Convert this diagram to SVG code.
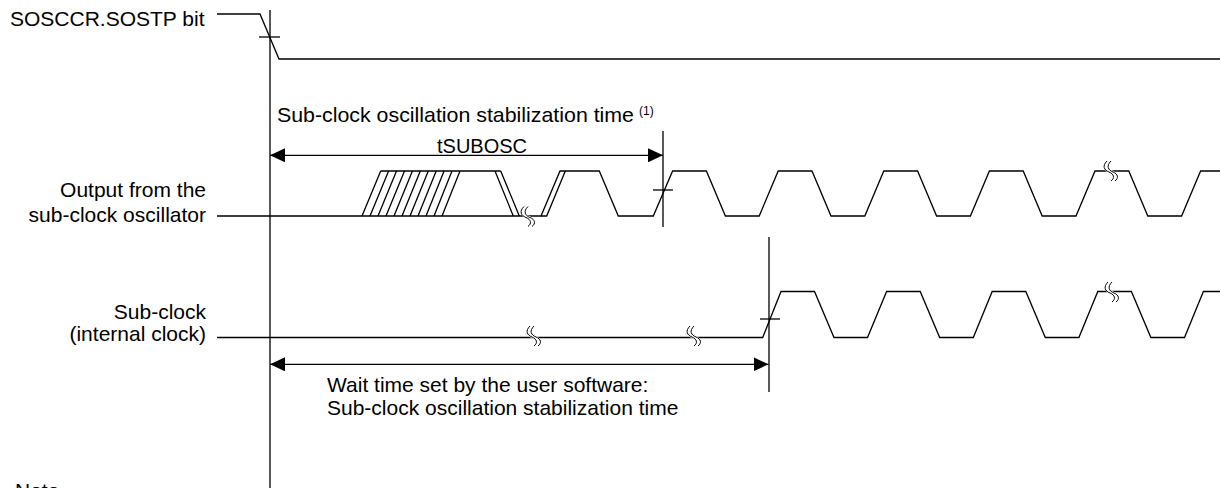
<svg xmlns="http://www.w3.org/2000/svg" width="1220" height="488" viewBox="0 0 1220 488">
<style>
.ln{fill:none;stroke:#000;stroke-width:1.3;stroke-linejoin:miter}
.t{font-family:"Liberation Sans",Arial,sans-serif;font-size:21px;fill:#000}
.e{text-anchor:end}
.bw{fill:none;stroke:#fff;stroke-width:4}
.bk{fill:none;stroke:#000;stroke-width:1}
</style>
<defs>
<marker id="ah" markerUnits="userSpaceOnUse" markerWidth="16" markerHeight="14" refX="15" refY="7" orient="auto-start-reverse">
<path d="M0,0 L15,7 L0,14 Z" fill="#000"/>
</marker>
<g id="brk">
<path class="bw" d="M-1,-10 C-6,-5 -4,-1 1,1 C6,3 7,7 3,10"/>
<path class="bk" d="M-3,-10 C-8,-5 -6,-1 -1,1 C4,3 5,7 1,10"/>
<path class="bk" d="M1,-10 C-4,-5 -2,-1 3,1 C8,3 9,7 5,10"/>
</g>
</defs>
<rect width="1220" height="488" fill="#fff"/>

<g id="sostp">
<text class="t" x="10" y="26">SOSCCR.SOSTP bit</text>
<path class="ln" d="M217,14 H260 L279,59 H1220"/>
<path class="ln" d="M259,37 H280"/>
</g>

<g id="oscillator">
<text class="t e" x="206" y="197">Output from the</text>
<text class="t e" x="206" y="222">sub-clock oscillator</text>
<path class="ln" d="M217,216 H541 L560,171 H599.3 L618.3,216 H653.3 L672.6,171 H706.4 L725.4,216 H759.2 L778.2,171 H812 L831,216 H864.8 L883.8,171 H917.6 L936.6,216 H970.4 L989.4,171 H1023.2 L1042.2,216 H1076 L1095,171 H1128.8 L1147.8,216 H1181.6 L1200.6,171 H1220"/>
<path class="ln" d="M541,216 H546.7 L565.3,171"/>
<path class="ln" d="M380.7,171 H500.7 M495,171 L513.3,216 M500.7,171 L519.3,216 M362,216 L380.7,171 M370,216 L388.6,171 M378,216 L396.5,171 M386,216 L404.5,171 M394,216 L412.4,171 M402,216 L420.3,171 M410,216 L428.3,171 M418,216 L436.2,171 M426,216 L444.1,171 M434,216 L452,171 M442,216 L460,171"/>
<path class="ln" d="M653,190 H673"/>
<use href="#brk" x="527" y="216.5"/>
<use href="#brk" x="1110" y="171"/>
</g>

<g id="subclock">
<text class="t e" x="206" y="319">Sub-clock</text>
<text class="t e" x="206" y="341">(internal clock)</text>
<path class="ln" d="M217,337.5 H762.7 L781,291.5 H814.5 L834,337.5 H867.5 L886.6,291.5 H920.2 L939.7,337.5 H973.3 L992.2,291.5 H1025.8 L1045.3,337.5 H1078.9 L1097.8,291.5 H1131.4 L1150.9,337.5 H1184.5 L1203.4,291.5 H1220"/>
<path class="ln" d="M760,319 H780"/>
<use href="#brk" x="533" y="336"/>
<use href="#brk" x="693" y="336"/>
<use href="#brk" x="1111" y="292"/>
</g>

<g id="guides">
<path class="ln" d="M270,10 V488 M663,131 V227 M769,237 V392"/>
</g>

<g id="tsubosc-label">
<text class="t" x="277" y="122" textLength="357" lengthAdjust="spacingAndGlyphs">Sub-clock oscillation stabilization time</text>
<text class="t" x="639" y="115" style="font-size:12px">(1)</text>
<text class="t" x="482" y="153" text-anchor="middle" style="font-size:20px">tSUBOSC</text>
</g>

<g id="wait-label">
<text class="t" x="327" y="392">Wait time set by the user software:</text>
<text class="t" x="327" y="415">Sub-clock oscillation stabilization time</text>
</g>

<g id="note">
<text class="t" x="15" y="498">Note</text>
</g>

<g id="connectors">
<path class="ln" d="M270,155.3 H663" marker-start="url(#ah)" marker-end="url(#ah)"/>
<path class="ln" d="M270,364.3 H768.5" marker-start="url(#ah)" marker-end="url(#ah)"/>
</g>
</svg>
